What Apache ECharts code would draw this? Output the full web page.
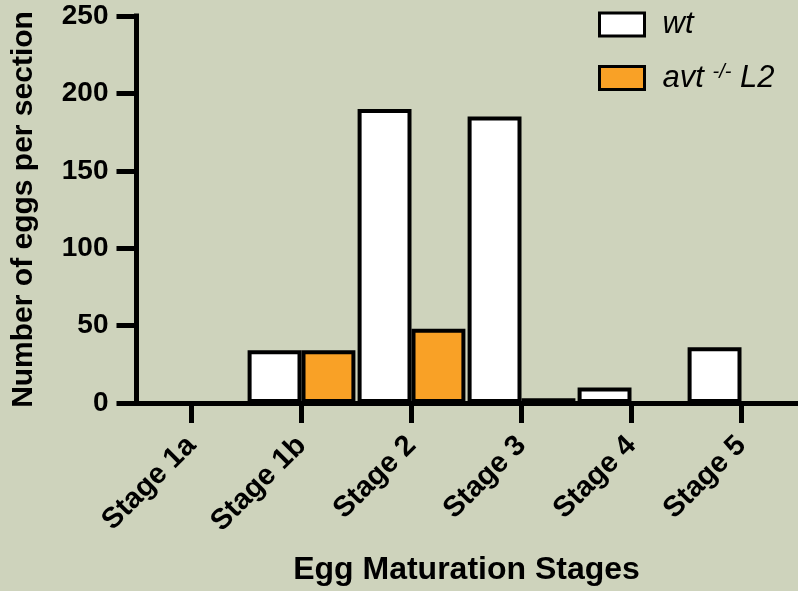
<!DOCTYPE html>
<html>
<head>
<meta charset="utf-8">
<script src="https://cdn.jsdelivr.net/npm/echarts@6/dist/echarts.min.js"></script>
<style>
  html, body { margin: 0; padding: 0; background: #ced3bc; }
  #chart { width: 798px; height: 591px; }
</style>
</head>
<body>
<div id="chart"></div>
<script>
// Egg counts per section, by maturation stage
const stages = ['Stage 1a', 'Stage 1b', 'Stage 2', 'Stage 3', 'Stage 4', 'Stage 5'];
const wtCounts = [0, 34, 190, 185, 10, 36];
const avtCounts = [0, 34, 48, 3, 0, 0];
const yTicks = [0, 50, 100, 150, 200, 250];

const FONT = '"Liberation Sans", Arial, Helvetica, sans-serif';
const INK = '#000000';
const ORANGE = '#f9a126';

const chart = echarts.init(document.getElementById('chart'), null, { renderer: 'canvas' });

const axisLineStyle = { show: true, lineStyle: { color: INK, width: 5, cap: 'square' } };

chart.setOption({
  backgroundColor: '#ced3bc',
  animation: false,
  grid: { left: 136.5, right: 1.5, top: 16, bottom: 185, containLabel: false },
  legend: {
    orient: 'vertical',
    left: 593,
    top: 4,
    itemWidth: 45,
    itemHeight: 23,
    itemGap: 22,
    icon: 'rect',
    selectedMode: false,
    itemStyle: { borderColor: INK, borderWidth: 3 },
    formatter: function (name) {
      return name === 'wt' ? '{i|wt}' : '{i|avt }{s|-/-}{i| L2}';
    },
    textStyle: {
      padding: [0, 0, 0, 13],
      rich: {
        i: { fontFamily: FONT, fontStyle: 'italic', fontSize: 31, lineHeight: 32, color: INK },
        s: { fontFamily: FONT, fontStyle: 'italic', fontSize: 20, lineHeight: 20, verticalAlign: 'top', color: INK }
      }
    },
    data: ['wt', 'avt']
  },
  xAxis: {
    type: 'category',
    data: stages,
    axisLine: axisLineStyle,
    axisTick: { show: true, alignWithLabel: true, length: 20, lineStyle: { color: INK, width: 5 } },
    axisLabel: {
      rotate: 45,
      margin: 38,
      color: INK,
      fontFamily: FONT,
      fontWeight: 'bold',
      fontSize: 29
    },
    name: 'Egg Maturation Stages',
    nameLocation: 'middle',
    nameGap: 151,
    nameTextStyle: { color: INK, fontFamily: FONT, fontWeight: 'bold', fontSize: 32 }
  },
  yAxis: {
    type: 'value',
    min: yTicks[0],
    max: yTicks[yTicks.length - 1],
    interval: yTicks[1] - yTicks[0],
    axisLine: axisLineStyle,
    axisTick: { show: true, length: 20, lineStyle: { color: INK, width: 5 } },
    splitLine: { show: false },
    axisLabel: {
      margin: 28,
      color: INK,
      fontFamily: FONT,
      fontWeight: 'bold',
      fontSize: 28
    },
    name: 'Number of eggs per section',
    nameLocation: 'middle',
    nameGap: 98,
    nameTextStyle: { color: INK, fontFamily: FONT, fontWeight: 'bold', fontSize: 30 }
  },
  series: [
    {
      name: 'wt',
      type: 'bar',
      data: wtCounts,
      barGap: '0%',
      barCategoryGap: '2%',
      itemStyle: { color: '#ffffff', borderColor: INK, borderWidth: 4 }
    },
    {
      name: 'avt',
      type: 'bar',
      data: avtCounts,
      barGap: '0%',
      barCategoryGap: '2%',
      itemStyle: { color: ORANGE, borderColor: INK, borderWidth: 4 }
    }
  ]
});
</script>
</body>
</html>
